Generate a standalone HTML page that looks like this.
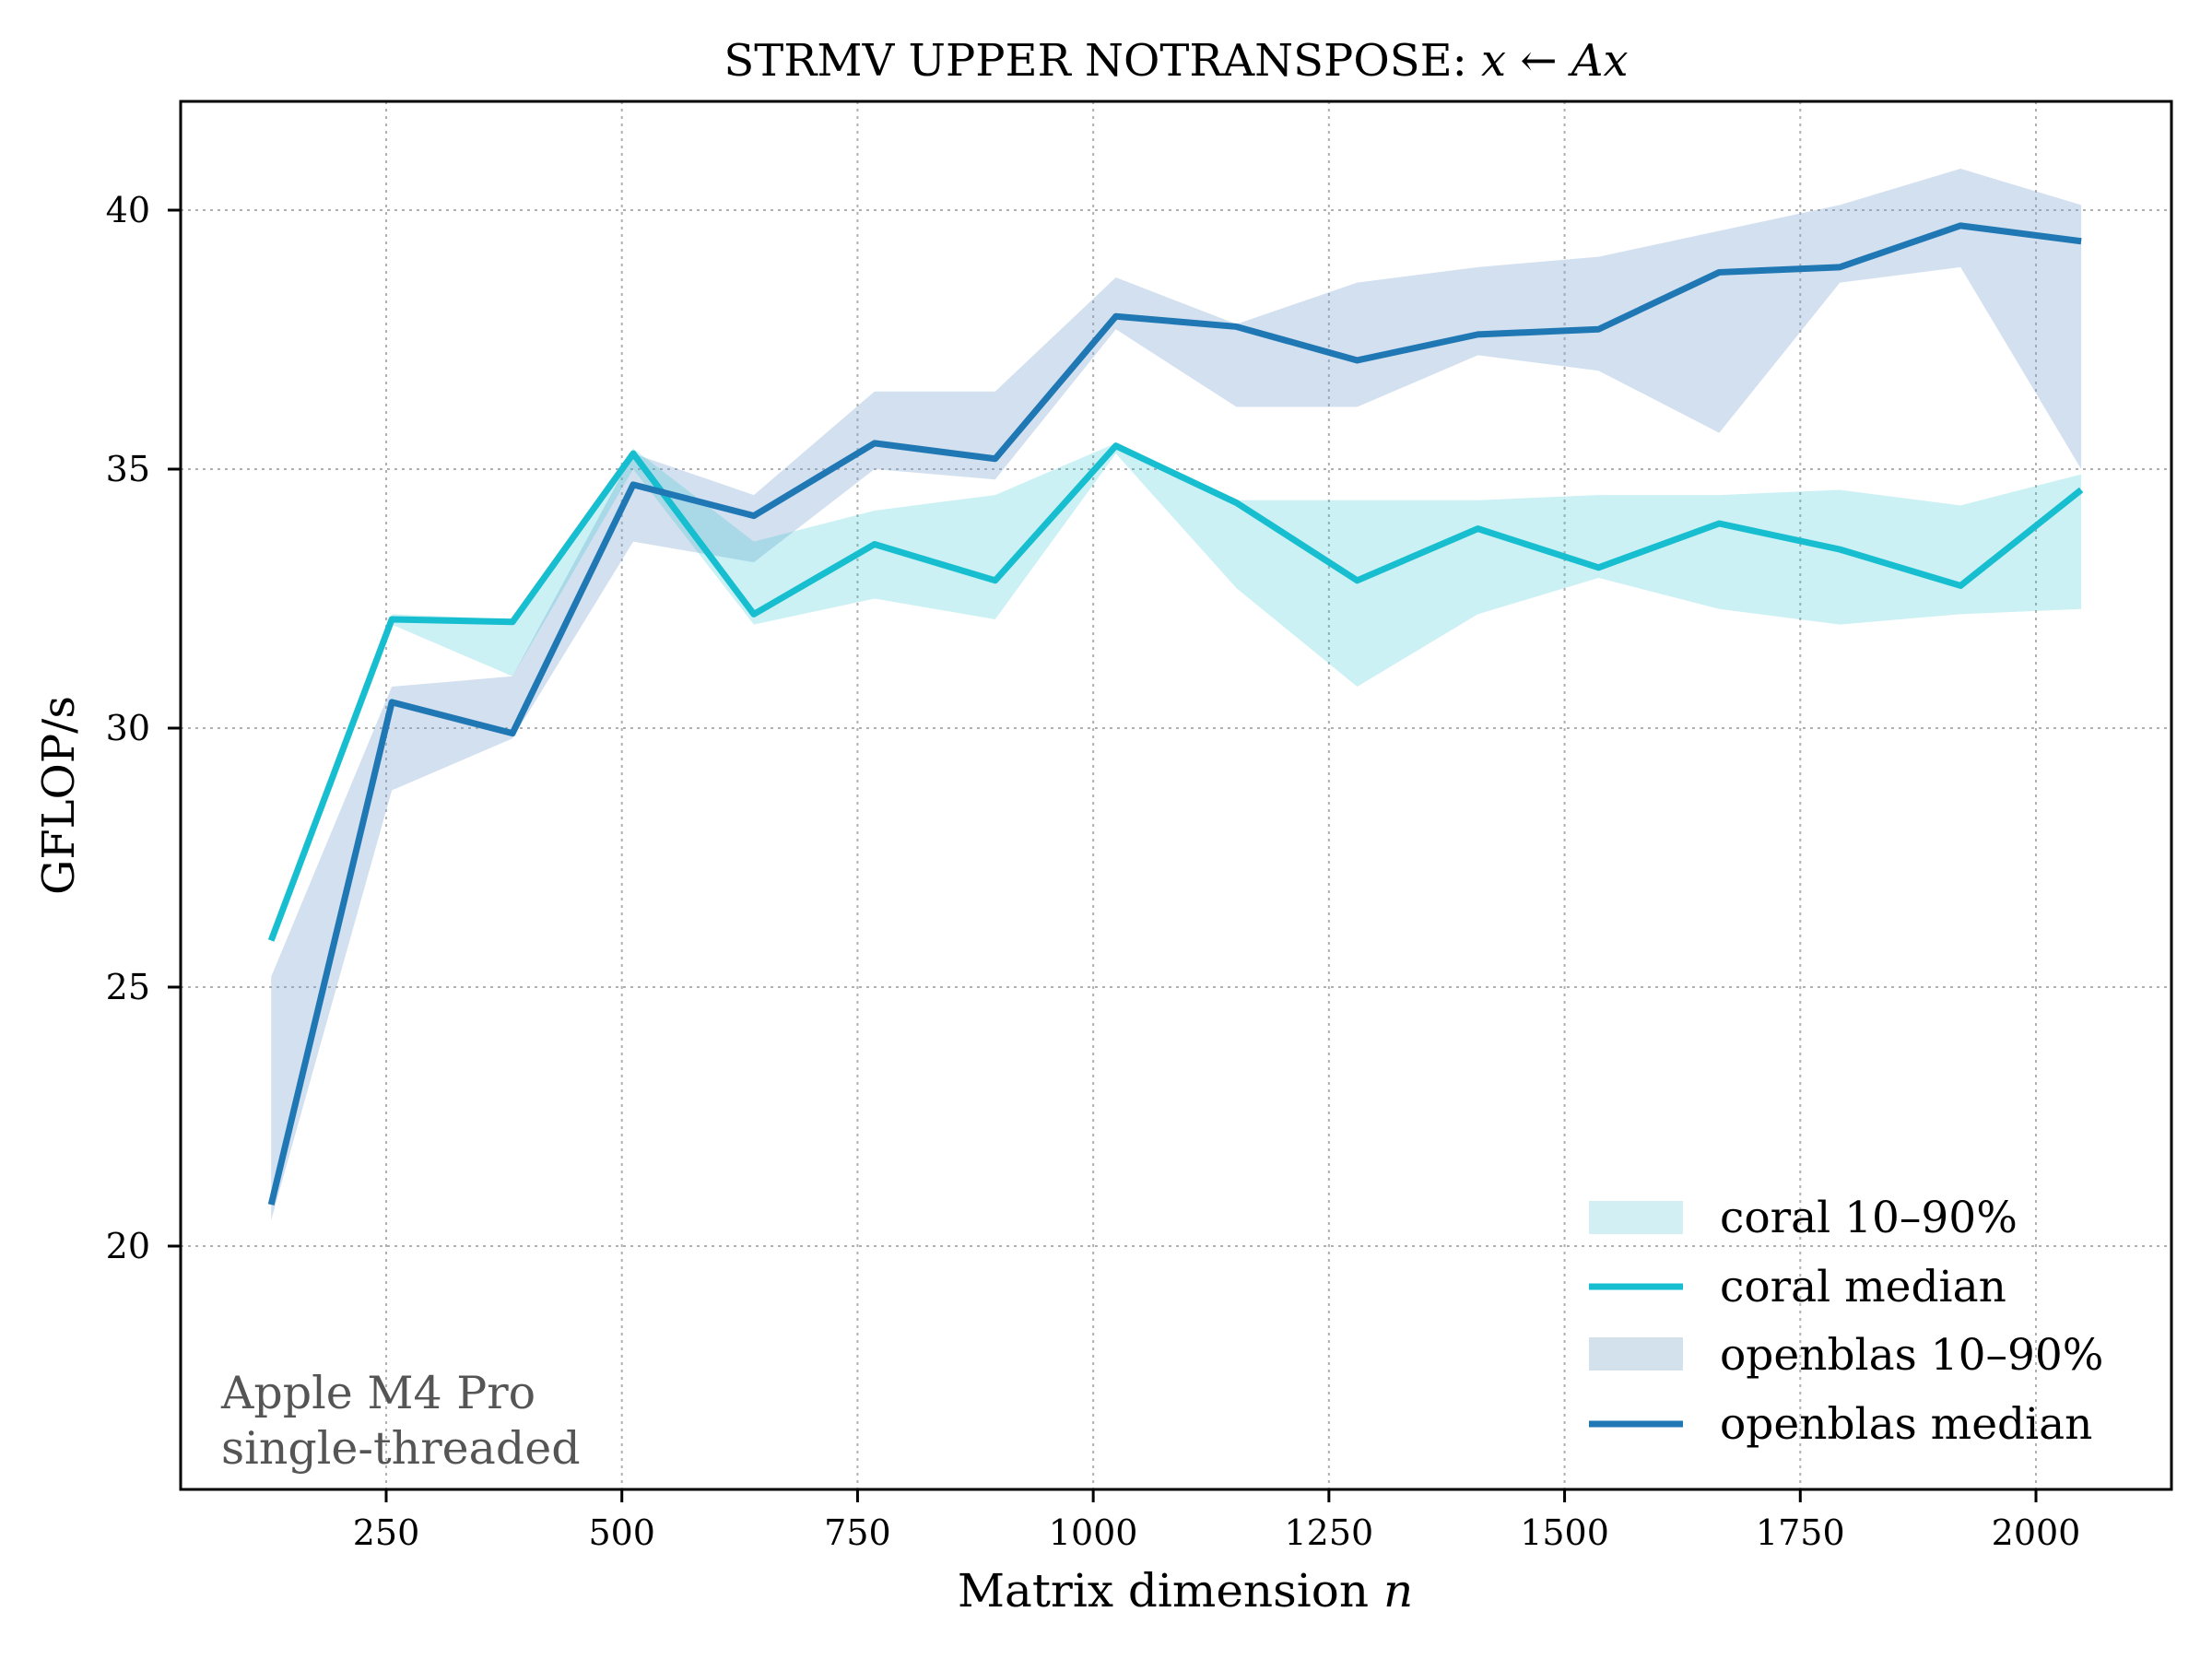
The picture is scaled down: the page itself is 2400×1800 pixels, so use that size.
<!DOCTYPE html>
<html><head><meta charset="utf-8"><style>
html,body{margin:0;padding:0;background:#fff;}
svg{display:block;font-family:"DejaVu Serif","Liberation Serif",serif;}
</style></head><body>
<svg id="chart" width="2400" height="1800" viewBox="0 0 2400 1800" xmlns="http://www.w3.org/2000/svg">
<rect width="2400" height="1800" fill="#fff"/>
<g id="grid"></g>
<g id="bands"></g>
<g id="lines"></g>
<rect x="196" y="110" width="2160" height="1506" fill="none" stroke="#000" stroke-width="3"/>
<g id="ticks"></g>
<text x="1276" y="82" font-size="48" text-anchor="middle">STRMV UPPER NOTRANSPOSE: <tspan font-style="italic">x</tspan> ←  <tspan font-style="italic">Ax</tspan></text>
<text x="1286" y="1743" font-size="50" text-anchor="middle">Matrix dimension <tspan font-style="italic">n</tspan></text>
<text transform="translate(80,863) rotate(-90)" font-size="48" text-anchor="middle">GFLOP/s</text>
<g fill="#555" font-size="49">
<text x="240" y="1528">Apple M4 Pro</text>
<text x="240" y="1588">single-threaded</text>
</g>
<g font-size="47" transform="translate(-20,0)">
<rect x="1744" y="1303" width="102" height="36" fill="#d2f0f3"/>
<text x="1886" y="1337">coral 10–90%</text>
<line x1="1744" y1="1396" x2="1846" y2="1396" stroke="#17becf" stroke-width="7"/>
<text x="1886" y="1412">coral median</text>
<rect x="1744" y="1451" width="102" height="36" fill="#d3e1ec"/>
<text x="1886" y="1486">openblas 10–90%</text>
<line x1="1744" y1="1545" x2="1846" y2="1545" stroke="#1f77b4" stroke-width="7"/>
<text x="1886" y="1561">openblas median</text>
</g>
</svg>
<script>
const sizes = [128,256,384,512,640,768,896,1024,1152,1280,1408,1536,1664,1792,1920,2048];
const openblasMedian = [20.8,30.5,29.9,34.7,34.1,35.5,35.2,37.95,37.75,37.1,37.6,37.7,38.8,38.9,39.7,39.4];
const openblasLo = [20.5,28.8,29.8,33.6,33.2,35.0,34.8,37.7,36.2,36.2,37.2,36.9,35.7,38.6,38.9,35.0];
const openblasHi = [25.2,30.8,31.0,35.3,34.5,36.5,36.5,38.7,37.8,38.6,38.9,39.1,39.6,40.1,40.8,40.1];
const coralMedian = [25.9,32.1,32.05,35.3,32.2,33.55,32.85,35.45,34.35,32.85,33.85,33.1,33.95,33.45,32.75,34.6];
const coralLo = [25.85,32.0,31.0,35.0,32.0,32.5,32.1,35.3,32.7,30.8,32.2,32.9,32.3,32.0,32.2,32.3];
const coralHi = [26.0,32.2,32.1,35.4,33.6,34.2,34.5,35.5,34.4,34.4,34.4,34.5,34.5,34.6,34.3,34.9];
const xTicks = [250,500,750,1000,1250,1500,1750,2000];
const yTicks = [20,25,30,35,40];

const NS = "http://www.w3.org/2000/svg";
function xs(v){ return 419 + (v - 250) * (1790 / 1750); }
function ys(v){ return 228 + (40 - v) * 56.2; }
function mk(tag, attrs, parent){
  const e = document.createElementNS(NS, tag);
  for (const k in attrs) e.setAttribute(k, attrs[k]);
  parent.appendChild(e); return e;
}
const grid = document.getElementById('grid');
const ticks = document.getElementById('ticks');
xTicks.forEach(t => {
  const g = mk('line', {x1: xs(t), x2: xs(t), y1: 110, y2: 1616, stroke: '#b0b0b0', 'stroke-width': 2, 'stroke-dasharray': '3,5'}, grid);
  
  
  const tk = mk('line', {x1: xs(t), x2: xs(t), y1: 1616, y2: 1630, stroke: '#000', 'stroke-width': 3}, ticks);
  
  
  const lb = mk('text', {x: xs(t), y: 1676, 'font-size': 38, 'text-anchor': 'middle'}, ticks);
  lb.textContent = t;
  
  
});
yTicks.forEach(t => {
  const g = mk('line', {x1: 196, x2: 2356, y1: ys(t), y2: ys(t), stroke: '#b0b0b0', 'stroke-width': 2, 'stroke-dasharray': '3,5'}, grid);
  
  
  const tk = mk('line', {x1: 182, x2: 196, y1: ys(t), y2: ys(t), stroke: '#000', 'stroke-width': 3}, ticks);
  
  
  const lb = mk('text', {x: 163, y: ys(t) + 13, 'font-size': 38, 'text-anchor': 'end'}, ticks);
  lb.textContent = t;
  
  
});
function bandPath(lo, hi){
  let d = '';
  sizes.forEach((s,i) => { d += (i ? 'L' : 'M') + xs(s) + ',' + ys(hi[i]); });
  for (let i = sizes.length - 1; i >= 0; i--) d += 'L' + xs(sizes[i]) + ',' + ys(lo[i]);
  return d + 'Z';
}
function linePath(v){
  return sizes.map((s,i) => (i ? 'L' : 'M') + xs(s) + ',' + ys(v[i])).join('');
}
const bands = document.getElementById('bands');
const ob = mk('path', {d: bandPath(openblasLo, openblasHi), fill: 'rgba(120,160,205,0.33)'}, bands);


const cb = mk('path', {d: bandPath(coralLo, coralHi), fill: 'rgba(23,190,207,0.22)'}, bands);


const lines = document.getElementById('lines');
const cl = mk('path', {d: linePath(coralMedian), fill: 'none', stroke: '#17becf', 'stroke-width': 7, 'stroke-linejoin': 'round'}, lines);


const ol = mk('path', {d: linePath(openblasMedian), fill: 'none', stroke: '#1f77b4', 'stroke-width': 7, 'stroke-linejoin': 'round'}, lines);


</script>
</body></html>
